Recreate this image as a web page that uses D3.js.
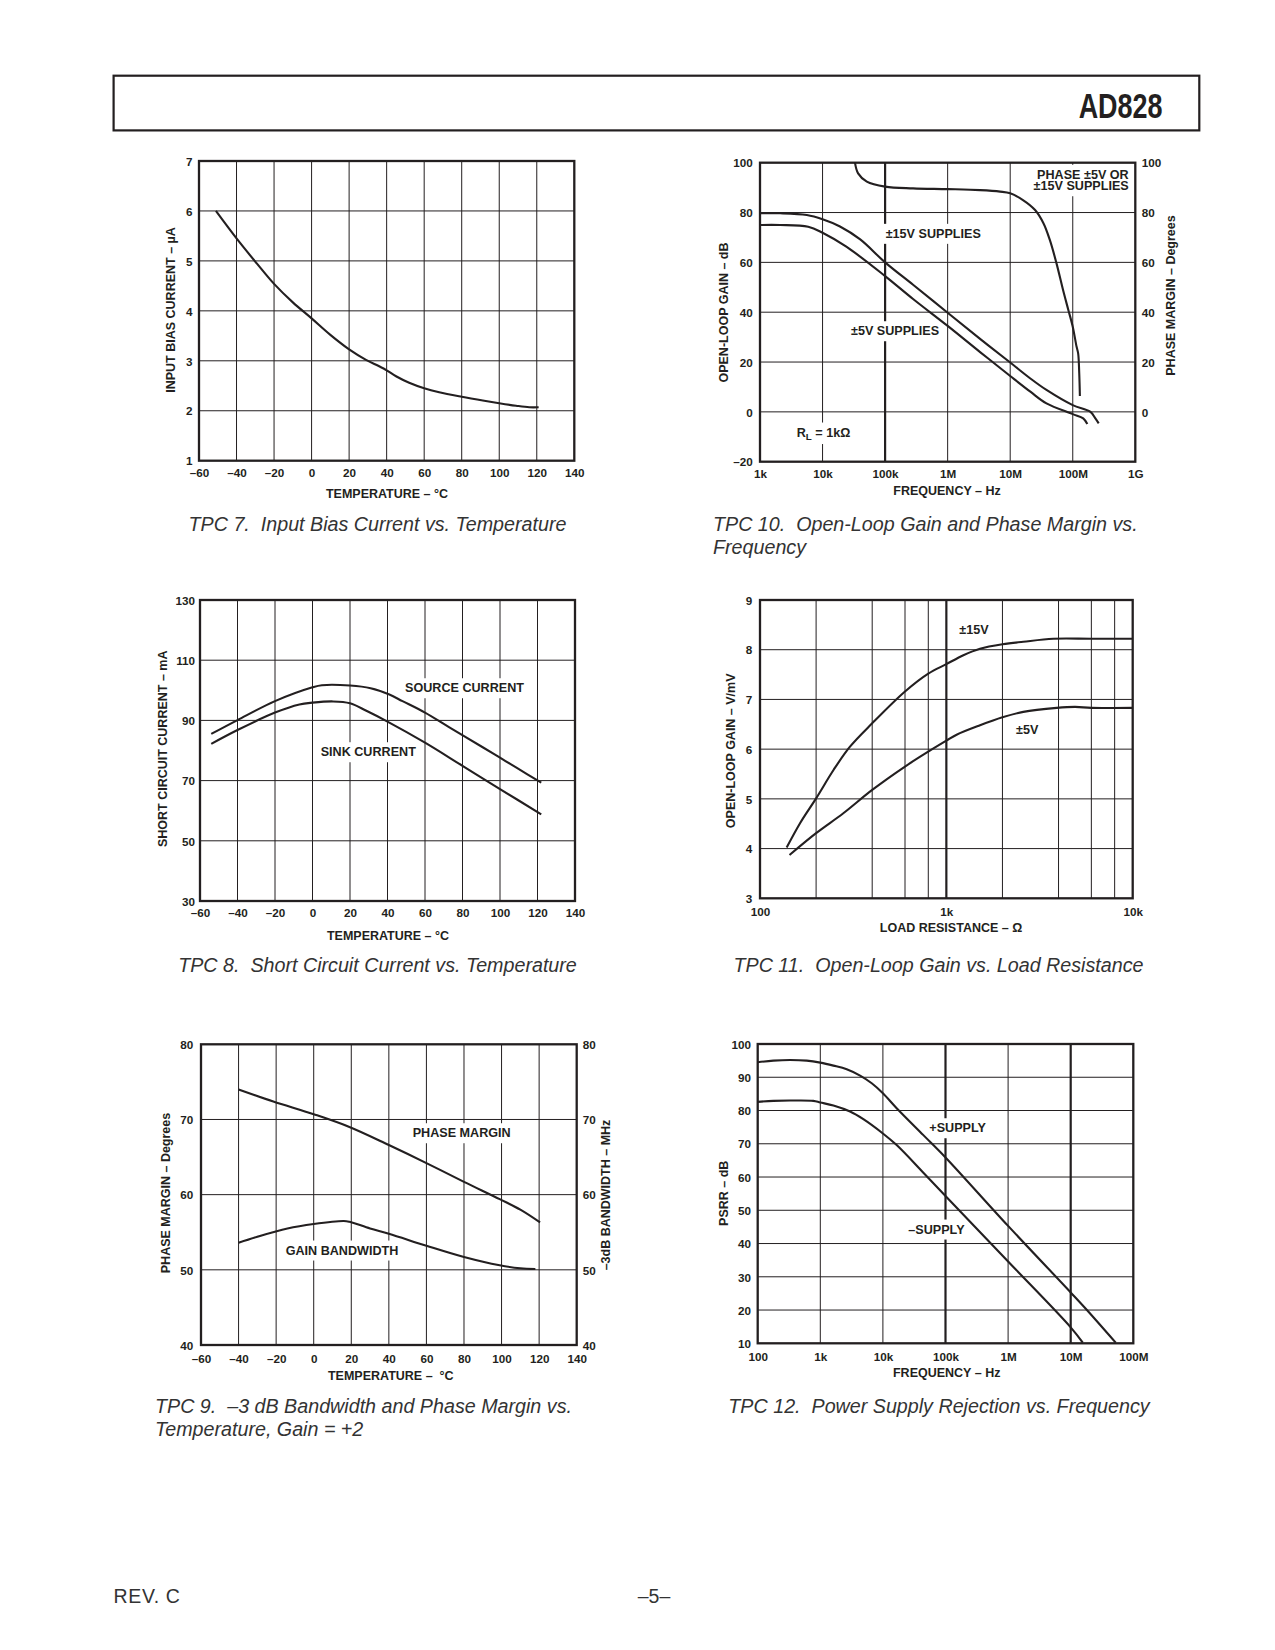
<!DOCTYPE html>
<html><head><meta charset="utf-8">
<script src="https://cdn.jsdelivr.net/npm/d3@7"></script>
<style>
body{margin:0;background:#fff}
svg{display:block}
text{white-space:pre}
</style></head>
<body>
<svg id="page" width="1275" height="1650"></svg>
<script>
// ---------------- DATA ----------------
// TPC 7: Input bias current vs temperature
const tpc7Temp = [-51, -40, -29, -20, -10, 0, 10, 20, 29, 36, 40, 45, 52, 60, 68, 80, 92, 100, 109, 116, 121];
const tpc7Bias = [6.0, 5.45, 4.94, 4.54, 4.17, 3.85, 3.52, 3.23, 3.02, 2.89, 2.81, 2.69, 2.56, 2.45, 2.37, 2.28, 2.20, 2.15, 2.10, 2.07, 2.07];
const tempTicks = [-60, -40, -20, 0, 20, 40, 60, 80, 100, 120, 140];
const tpc7YTicks = [1, 2, 3, 4, 5, 6, 7];

// TPC 10: Open-loop gain and phase margin vs frequency
const tpc10Freq15 = [1e3, 2.1e3, 5.6e3, 1e4, 1.9e4, 4e4, 1e5, 2.8e5, 1e6, 3.3e6, 1e7, 2.1e7, 3.8e7, 1e8, 1.9e8, 2.3e8, 2.6e8];
const tpc10Gain15 = [79.7, 79.7, 79.0, 77.3, 74.4, 69.2, 60.0, 51.0, 39.8, 29.3, 19.8, 13.4, 8.8, 2.7, 0.1, -2.6, -4.6];
const tpc10Freq5 = [1e3, 2.1e3, 5.9e3, 1e4, 2.4e4, 1e5, 2.8e5, 1e6, 3.3e6, 1e7, 2.1e7, 3.8e7, 1e8, 1.47e8, 1.71e8];
const tpc10Gain5 = [75.0, 75.0, 74.3, 71.9, 66.3, 54.5, 45.3, 34.5, 24.0, 14.4, 8.1, 3.4, -0.9, -2.6, -4.9];
const tpc10PhaseFreq = [3.3e4, 3.7e4, 5.1e4, 1e5, 2.8e5, 1e6, 3.3e6, 6.9e6, 1e7, 1.6e7, 2.5e7, 3.4e7, 4.3e7, 5.5e7, 7.0e7, 8.5e7, 1e8, 1.15e8, 1.22e8, 1.27e8, 1.3e8];
const tpc10Phase = [100, 95.7, 92.4, 90.4, 89.7, 89.4, 89.0, 88.4, 87.7, 85.0, 81.0, 75.7, 69.0, 59.6, 48.9, 40.9, 34.2, 26.2, 23.5, 15.5, 6.4];
const tpc10XTicks = [1e3, 1e4, 1e5, 1e6, 1e7, 1e8, 1e9];
const tpc10XLabels = ["1k", "10k", "100k", "1M", "10M", "100M", "1G"];
const tpc10YTicks = [-20, 0, 20, 40, 60, 80, 100];
const tpc10Y2Ticks = [0, 20, 40, 60, 80, 100];

// TPC 8: Short circuit current vs temperature
const tpc8SourceTemp = [-54, -40, -20, 0, 5, 20, 31, 41, 48, 60, 73, 91, 100, 109, 122];
const tpc8Source = [85.5, 90.1, 96.4, 101.0, 101.7, 101.6, 100.7, 98.6, 96.4, 92.6, 87.7, 81.0, 77.6, 74.2, 69.3];
const tpc8SinkTemp = [-54, -40, -20, -7, 0, 11, 20, 29, 40, 60, 80, 100, 122];
const tpc8Sink = [82.2, 86.8, 92.6, 95.3, 95.9, 96.3, 95.7, 93.1, 89.6, 82.6, 74.9, 67.2, 58.8];
const tpc8YTicks = [30, 50, 70, 90, 110, 130];

// TPC 11: Open-loop gain vs load resistance
const tpc11R15 = [139, 164, 200, 248, 304, 400, 600, 800, 1000, 1234, 1516, 2000, 2588, 3750, 6000, 10000];
const tpc11Gain15 = [4.02, 4.51, 5.01, 5.58, 6.05, 6.52, 7.16, 7.52, 7.71, 7.89, 8.02, 8.11, 8.16, 8.22, 8.22, 8.22];
const tpc11R5 = [144, 200, 280, 400, 600, 800, 1000, 1135, 1516, 2000, 2588, 3908, 4911, 6000, 10000];
const tpc11Gain5 = [3.87, 4.31, 4.71, 5.18, 5.65, 5.95, 6.17, 6.29, 6.48, 6.64, 6.75, 6.83, 6.85, 6.83, 6.83];
const tpc11XTicks = [100, 1000, 10000];
const tpc11XLabels = ["100", "1k", "10k"];
const tpc11XGrid = [200, 400, 600, 800, 1000, 2000, 4000, 6000, 8000];
const tpc11YTicks = [3, 4, 5, 6, 7, 8, 9];

// TPC 9: -3 dB bandwidth and phase margin vs temperature
const tpc9PmTemp = [-40, -21.5, 0, 19, 40, 60, 80, 99, 110, 120.5];
const tpc9Pm = [74.0, 72.4, 70.7, 69.0, 66.6, 64.2, 61.7, 59.4, 58.0, 56.3];
const tpc9BwTemp = [-40, -30, -14, 0, 16, 19, 30, 40, 60, 80, 99, 110, 118];
const tpc9Bw = [53.6, 54.4, 55.5, 56.1, 56.5, 56.4, 55.5, 54.8, 53.2, 51.7, 50.6, 50.2, 50.1];
const tpc9YTicks = [40, 50, 60, 70, 80];

// TPC 12: Power supply rejection vs frequency
const tpc12PlusFreq = [100, 178, 329, 607, 1000, 1620, 2640, 4320, 6630, 1e4, 1.66e4, 4.43e4, 1e5, 1e6, 1e7, 1.8e7, 5.24e7];
const tpc12Plus = [94.5, 95.0, 95.2, 95.0, 94.4, 93.5, 92.4, 90.5, 88.2, 85.2, 80.7, 72.6, 65.9, 45.3, 25.3, 20.1, 10.2];
const tpc12MinusFreq = [100, 178, 329, 774, 1000, 1620, 2990, 4870, 1e4, 1.66e4, 4.43e4, 1e5, 1e6, 1e7, 1.56e7];
const tpc12Minus = [82.6, 82.9, 83.0, 82.9, 82.4, 81.5, 79.7, 77.4, 73.1, 69.6, 61.3, 54.3, 34.6, 14.8, 10.2];
const tpc12XTicks = [1e2, 1e3, 1e4, 1e5, 1e6, 1e7, 1e8];
const tpc12XLabels = ["100", "1k", "10k", "100k", "1M", "10M", "100M"];
const tpc12YTicks = [10, 20, 30, 40, 50, 60, 70, 80, 90, 100];

// ---------------- DRAWING ----------------
const INK = "#231f20";
const FONT = "'Liberation Sans', Arial, Helvetica, sans-serif";
const svg = d3.select("#page");
const fmtSigned = d => (d < 0 ? "\u2013" + Math.abs(d) : String(d));

function zip(xs, ys) { return xs.map((v, i) => [v, ys[i]]); }

function drawChart(c) {
  const root = svg.append("g");
  const gridG = root.append("g"), bgG = root.append("g"), frameG = root.append("g"),
        curveG = root.append("g"), textG = root.append("g");
  const x = (c.xLog ? d3.scaleLog() : d3.scaleLinear()).domain(c.xDomain).range([c.left, c.right]);
  const y = d3.scaleLinear().domain(c.yDomain).range([c.bottom, c.top]);
  const thick = c.xThick || [];

  gridG.selectAll("line.v").data(c.xGrid).join("line")
    .attr("x1", d => x(d)).attr("x2", d => x(d))
    .attr("y1", c.top).attr("y2", c.bottom)
    .attr("stroke", INK).attr("stroke-width", d => thick.includes(d) ? 2.2 : 1);
  gridG.selectAll("line.h").data(c.yGrid).join("line")
    .attr("x1", c.left).attr("x2", c.right)
    .attr("y1", d => y(d)).attr("y2", d => y(d))
    .attr("stroke", INK).attr("stroke-width", 1);

  frameG.append("rect")
    .attr("x", c.left).attr("y", c.top)
    .attr("width", c.right - c.left).attr("height", c.bottom - c.top)
    .attr("fill", "none").attr("stroke", INK).attr("stroke-width", 2.3);

  const line = d3.line().x(d => x(d[0])).y(d => y(d[1])).curve(d3.curveCatmullRom.alpha(0.5));
  c.series.forEach(s => {
    curveG.append("path").datum(s).attr("d", line)
      .attr("fill", "none").attr("stroke", INK).attr("stroke-width", 2.1)
      .attr("stroke-linejoin", "round").attr("stroke-linecap", "butt");
  });

  // axes (labels only)
  const styleAxis = (g) => {
    g.select(".domain").remove();
    g.selectAll("text").attr("fill", INK).attr("font-family", FONT)
      .attr("font-size", 11.7).attr("font-weight", "bold");
  };
  const xa = d3.axisBottom(x).tickValues(c.xTicks).tickSize(0).tickPadding(0)
    .tickFormat((d, i) => c.xLabels ? c.xLabels[i] : fmtSigned(d));
  textG.append("g").attr("transform", `translate(0,${c.xTickY})`).call(xa).call(styleAxis)
    .selectAll("text").attr("dy", "0.36em").attr("y", 0);
  const ya = d3.axisLeft(y).tickValues(c.yTicks).tickSize(0).tickPadding(0).tickFormat(fmtSigned);
  textG.append("g").attr("transform", `translate(${c.yTickX},0)`).call(ya).call(styleAxis)
    .selectAll("text").attr("dy", "0.36em");
  if (c.y2Ticks) {
    const ya2 = d3.axisRight(y).tickValues(c.y2Ticks).tickSize(0).tickPadding(0).tickFormat(fmtSigned);
    textG.append("g").attr("transform", `translate(${c.y2TickX},0)`).call(ya2).call(styleAxis)
      .selectAll("text").attr("dy", "0.36em");
  }

  const title = (t, px, py, rot) => {
    textG.append("text").text(t)
      .attr("transform", `translate(${px},${py})` + (rot ? " rotate(-90)" : ""))
      .attr("text-anchor", "middle").attr("dy", "0.36em")
      .attr("fill", INK).attr("font-family", FONT).attr("font-size", 12.5).attr("font-weight", "bold");
  };
  title(c.xTitle, c.xTitlePos[0], c.xTitlePos[1], false);
  title(c.yTitle, c.yTitlePos[0], c.yTitlePos[1], true);
  if (c.y2Title) title(c.y2Title, c.y2TitlePos[0], c.y2TitlePos[1], true);

  (c.labels || []).forEach(l => {
    const t = textG.append("text")
      .attr("x", l.x).attr("y", l.y).attr("dy", "0.36em")
      .attr("text-anchor", l.anchor || "start")
      .attr("fill", INK).attr("font-family", FONT).attr("font-size", 12.6).attr("font-weight", "bold");
    if (l.parts) {
      l.parts.forEach(p => {
        const ts = t.append("tspan").text(p.t);
        if (p.sub) ts.attr("baseline-shift", "-25%").attr("font-size", 9.8);
      });
    } else t.text(l.text);
    const b = t.node().getBBox();
    bgG.append("rect").attr("x", b.x - 3).attr("y", b.y - 3)
      .attr("width", b.width + 6).attr("height", b.height + 6).attr("fill", "#fff");
  });
}

// Header
svg.append("rect").attr("x", 113.6).attr("y", 75.7).attr("width", 1085.7).attr("height", 54.7)
  .attr("fill", "none").attr("stroke", INK).attr("stroke-width", 2.2);
svg.append("text").text("AD828")
  .attr("transform", "translate(1162.5,118) scale(0.77,1)")
  .attr("text-anchor", "end").attr("fill", INK).attr("font-family", FONT)
  .attr("font-size", 35).attr("font-weight", "bold");

// TPC 7
drawChart({
  left: 199, right: 574.3, top: 161, bottom: 460.7,
  xDomain: [-60, 140], yDomain: [1, 7],
  xGrid: tempTicks.slice(1, -1), yGrid: tpc7YTicks.slice(1, -1),
  xTicks: tempTicks, yTicks: tpc7YTicks,
  xTickY: 473, yTickX: 192.5,
  xTitle: "TEMPERATURE \u2013 \u00B0C", xTitlePos: [387, 493],
  yTitle: "INPUT BIAS CURRENT \u2013 \u00B5A", yTitlePos: [170.7, 310],
  series: [zip(tpc7Temp, tpc7Bias)]
});

// TPC 10
drawChart({
  left: 760, right: 1135.3, top: 162.7, bottom: 461.7,
  xLog: true, xDomain: [1e3, 1e9], yDomain: [-20, 100],
  xGrid: tpc10XTicks.slice(1, -1), xThick: [1e5], yGrid: tpc10YTicks.slice(1, -1),
  xTicks: tpc10XTicks, xLabels: tpc10XLabels, yTicks: tpc10YTicks, y2Ticks: tpc10Y2Ticks,
  xTickY: 473.3, yTickX: 752.7, y2TickX: 1141.7,
  xTitle: "FREQUENCY \u2013 Hz", xTitlePos: [947, 490.7],
  yTitle: "OPEN-LOOP GAIN \u2013 dB", yTitlePos: [723.3, 312.5],
  y2Title: "PHASE MARGIN \u2013 Degrees", y2TitlePos: [1170, 295.5],
  series: [zip(tpc10Freq15, tpc10Gain15), zip(tpc10Freq5, tpc10Gain5), zip(tpc10PhaseFreq, tpc10Phase)],
  labels: [
    { text: "\u00B115V SUPPLIES", x: 885.7, y: 233.3 },
    { text: "\u00B15V SUPPLIES", x: 851, y: 330.7 },
    { text: "PHASE \u00B15V OR", x: 1128.7, y: 174.3, anchor: "end" },
    { text: "\u00B115V SUPPLIES", x: 1128.7, y: 185.7, anchor: "end" },
    { parts: [{ t: "R" }, { t: "L", sub: true }, { t: " = 1k\u03A9" }], x: 796.7, y: 432 }
  ]
});

// TPC 8
drawChart({
  left: 200, right: 575, top: 600, bottom: 901,
  xDomain: [-60, 140], yDomain: [30, 130],
  xGrid: tempTicks.slice(1, -1), yGrid: tpc8YTicks.slice(1, -1),
  xTicks: tempTicks, yTicks: tpc8YTicks,
  xTickY: 912.7, yTickX: 195,
  xTitle: "TEMPERATURE \u2013 \u00B0C", xTitlePos: [388, 935.7],
  yTitle: "SHORT CIRCUIT CURRENT \u2013 mA", yTitlePos: [162.3, 748.8],
  series: [zip(tpc8SourceTemp, tpc8Source), zip(tpc8SinkTemp, tpc8Sink)],
  labels: [
    { text: "SOURCE CURRENT", x: 405, y: 687.7 },
    { text: "SINK CURRENT", x: 320.7, y: 751.7 }
  ]
});

// TPC 11
drawChart({
  left: 760, right: 1132.7, top: 600, bottom: 898.3,
  xLog: true, xDomain: [100, 10000], yDomain: [3, 9],
  xGrid: tpc11XGrid, xThick: [1000], yGrid: tpc11YTicks.slice(1, -1),
  xTicks: tpc11XTicks, xLabels: tpc11XLabels, yTicks: tpc11YTicks,
  xTickY: 911.7, yTickX: 752.3,
  xTitle: "LOAD RESISTANCE \u2013 \u03A9", xTitlePos: [951, 927.7],
  yTitle: "OPEN-LOOP GAIN \u2013 V/mV", yTitlePos: [730, 750.8],
  series: [zip(tpc11R15, tpc11Gain15), zip(tpc11R5, tpc11Gain5)],
  labels: [
    { text: "\u00B115V", x: 959.3, y: 629 },
    { text: "\u00B15V", x: 1016, y: 729 }
  ]
});

// TPC 9
drawChart({
  left: 201, right: 576.7, top: 1044.3, bottom: 1345,
  xDomain: [-60, 140], yDomain: [40, 80],
  xGrid: tempTicks.slice(1, -1), yGrid: tpc9YTicks.slice(1, -1),
  xTicks: tempTicks, yTicks: tpc9YTicks, y2Ticks: tpc9YTicks,
  xTickY: 1359, yTickX: 193.3, y2TickX: 582.7,
  xTitle: "TEMPERATURE \u2013  \u00B0C", xTitlePos: [390.8, 1375.7],
  yTitle: "PHASE MARGIN \u2013 Degrees", yTitlePos: [165.7, 1193],
  y2Title: "\u20133dB BANDWIDTH \u2013 MHz", y2TitlePos: [605, 1195],
  series: [zip(tpc9PmTemp, tpc9Pm), zip(tpc9BwTemp, tpc9Bw)],
  labels: [
    { text: "PHASE MARGIN", x: 412.7, y: 1132.7 },
    { text: "GAIN BANDWIDTH", x: 285.7, y: 1250 }
  ]
});

// TPC 12
drawChart({
  left: 757.7, right: 1133.3, top: 1044, bottom: 1343.3,
  xLog: true, xDomain: [1e2, 1e8], yDomain: [10, 100],
  xGrid: tpc12XTicks.slice(1, -1), xThick: [1e5, 1e7], yGrid: tpc12YTicks.slice(1, -1),
  xTicks: tpc12XTicks, xLabels: tpc12XLabels, yTicks: tpc12YTicks,
  xTickY: 1356.7, yTickX: 751,
  xTitle: "FREQUENCY \u2013 Hz", xTitlePos: [946.7, 1372.3],
  yTitle: "PSRR \u2013 dB", yTitlePos: [723.3, 1193.3],
  series: [zip(tpc12PlusFreq, tpc12Plus), zip(tpc12MinusFreq, tpc12Minus)],
  labels: [
    { text: "+SUPPLY", x: 929.3, y: 1127.7 },
    { text: "\u2013SUPPLY", x: 908.3, y: 1229 }
  ]
});

// Captions
const captions = [
  { t: "TPC 7.  Input Bias Current vs. Temperature", x: 377.5, y: 531, a: "middle" },
  { t: "TPC 10.  Open-Loop Gain and Phase Margin vs.", x: 713, y: 531, a: "start" },
  { t: "Frequency", x: 713, y: 554, a: "start" },
  { t: "TPC 8.  Short Circuit Current vs. Temperature", x: 377.5, y: 972, a: "middle" },
  { t: "TPC 11.  Open-Loop Gain vs. Load Resistance", x: 938.5, y: 972, a: "middle" },
  { t: "TPC 9.  \u20133 dB Bandwidth and Phase Margin vs.", x: 155, y: 1413, a: "start" },
  { t: "Temperature, Gain = +2", x: 155, y: 1436, a: "start" },
  { t: "TPC 12.  Power Supply Rejection vs. Frequency", x: 939, y: 1413, a: "middle" }
];
svg.selectAll("text.cap").data(captions).join("text").attr("class", "cap")
  .text(d => d.t).attr("x", d => d.x).attr("y", d => d.y).attr("text-anchor", d => d.a)
  .attr("fill", "#333").attr("font-family", FONT).attr("font-size", 19.7).attr("font-style", "italic");

// Footer
svg.append("text").text("REV. C").attr("x", 113.6).attr("y", 1603)
  .attr("fill", "#333").attr("font-family", FONT).attr("font-size", 19.5).attr("letter-spacing", 0.6);
svg.append("text").text("\u20135\u2013").attr("x", 654).attr("y", 1603).attr("text-anchor", "middle")
  .attr("fill", "#333").attr("font-family", FONT).attr("font-size", 19.5);
</script>
</body></html>
